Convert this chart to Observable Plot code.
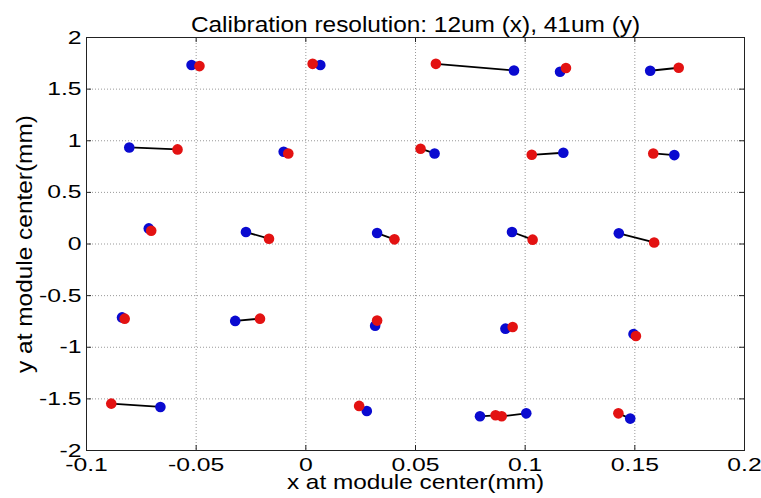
<!DOCTYPE html>
<html><head><meta charset="utf-8">
<script src="https://cdn.jsdelivr.net/npm/d3@7"></script>
<script src="https://cdn.jsdelivr.net/npm/@observablehq/plot@0.6"></script>
<style>body{margin:0;background:#fff}</style>
</head><body>
<div id="chart"></div>
<script>
const title = "Calibration resolution: 12um (x), 41um (y)";
const xLabel = "x at module center(mm)";
const yLabel = "y at module center(mm)";
const xTicks = [-0.1, -0.05, 0, 0.05, 0.1, 0.15, 0.2];
const xTickLabels = ["-0.1", "-0.05", "0", "0.05", "0.1", "0.15", "0.2"];
const yTicks = [-2, -1.5, -1, -0.5, 0, 0.5, 1, 1.5, 2];
const yTickLabels = ["-2", "-1.5", "-1", "-0.5", "0", "0.5", "1", "1.5", "2"];

// measured (blue) and reference (red) module centres
const blueX = [-0.0521, 0.0066, 0.0949, 0.1159, 0.157,
               -0.0805, -0.0101, 0.0587, 0.1174, 0.168,
               -0.0716, -0.0273, 0.0325, 0.094, 0.1427,
               -0.0838, -0.0322, 0.0316, 0.091, 0.1494,
               -0.0663, 0.0278, 0.0794, 0.1005, 0.1479];
const blueY = [1.733, 1.733, 1.681, 1.668, 1.678,
               0.935, 0.894, 0.877, 0.884, 0.861,
               0.151, 0.116, 0.106, 0.116, 0.103,
               -0.711, -0.745, -0.791, -0.82, -0.871,
               -1.578, -1.617, -1.669, -1.640, -1.691];
const redX = [-0.0485, 0.0031, 0.0593, 0.1186, 0.170,
              -0.0585, -0.008, 0.0523, 0.103, 0.1584,
              -0.0705, -0.0168, 0.0404, 0.1034, 0.1588,
              -0.0826, -0.0209, 0.0325, 0.0943, 0.1505,
              -0.0887, 0.0243, 0.0865, 0.0893, 0.1425];
const redY = [1.723, 1.745, 1.745, 1.704, 1.707,
              0.916, 0.877, 0.923, 0.864, 0.877,
              0.129, 0.051, 0.045, 0.042, 0.015,
              -0.723, -0.723, -0.742, -0.804, -0.891,
              -1.546, -1.568, -1.659, -1.669, -1.640];

const pairs = blueX.map((_, i) => ({bx: blueX[i], by: blueY[i], rx: redX[i], ry: redY[i]}));

const W = 761, H = 498, mL = 86, mR = 17, mT = 37, mB = 48;
const fw = W - mL - mR, fh = H - mT - mB, tk = 5;
const lab = (ticks, labels) => d => labels[ticks.findIndex(t => Math.abs(t - d) < 1e-9)];

const plot = Plot.plot({
  width: W, height: H,
  marginLeft: mL, marginRight: mR, marginTop: mT, marginBottom: mB,
  style: {fontFamily: "'Liberation Sans', Arial, sans-serif", fontSize: "19px", background: "#fff", color: "#000"},
  x: {domain: [-0.1, 0.2]},
  y: {domain: [-2, 2]},
  marks: [
    Plot.gridX(xTicks.slice(1, -1), {stroke: "#999", strokeOpacity: 1, strokeDasharray: "1,2"}),
    Plot.gridY(yTicks.slice(1, -1), {stroke: "#999", strokeOpacity: 1, strokeDasharray: "1,2"}),
    Plot.frame({stroke: "#222"}),
    Plot.tickX(xTicks, {x: d => d, insetTop: fh - tk, stroke: "#222"}),
    Plot.tickX(xTicks, {x: d => d, insetBottom: fh - tk, stroke: "#222"}),
    Plot.tickY(yTicks, {y: d => d, insetRight: fw - tk, stroke: "#222"}),
    Plot.tickY(yTicks, {y: d => d, insetLeft: fw - tk, stroke: "#222"}),
    Plot.axisX({ticks: xTicks, tickSize: 0, tickPadding: 7, tickFormat: lab(xTicks, xTickLabels), label: null}),
    Plot.axisY({ticks: yTicks, tickSize: 0, tickPadding: 5, tickFormat: lab(yTicks, yTickLabels), label: null}),
    Plot.link(pairs, {x1: "bx", y1: "by", x2: "rx", y2: "ry", stroke: "#000", strokeWidth: 1.8}),
    Plot.dot(pairs, {x: "bx", y: "by", r: 5.3, fill: "#0a0ad0"}),
    Plot.dot(pairs, {x: "rx", y: "ry", r: 5.3, fill: "#e31212"}),
    Plot.text([title], {text: d => d, frameAnchor: "top", textAnchor: "middle", dy: -21, fontSize: 22, className: "lbl"}),
    Plot.text([xLabel], {text: d => d, frameAnchor: "bottom", textAnchor: "middle", dy: 38, fontSize: 21, className: "lbl"}),
    Plot.text([yLabel], {text: d => d, frameAnchor: "left", textAnchor: "middle", dx: -62, rotate: -90, fontSize: 22, className: "lbl"})
  ]
});
document.getElementById("chart").append(plot);
plot.querySelectorAll("text").forEach(t => {
  const len = t.getComputedTextLength();
  if (len > 0) {
    const k = t.closest(".lbl") ? (t.textContent === xLabel ? 1.16 : 1.11) : 1.3;
    t.setAttribute("textLength", (len * k).toFixed(1));
    t.setAttribute("lengthAdjust", "spacingAndGlyphs");
  }
});
</script>
</body></html>
